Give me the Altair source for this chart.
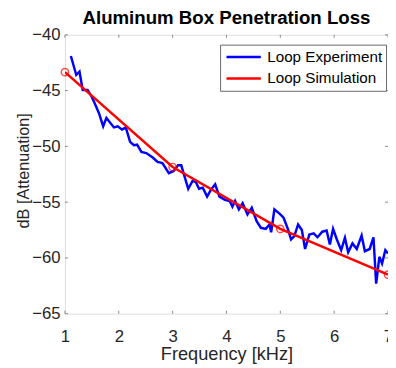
import altair as alt
import pandas as pd

# Measured experiment (blue) – frequency in kHz, attenuation in dB
exp_freq = [1.11, 1.21, 1.27, 1.33, 1.42, 1.48, 1.54, 1.63, 1.71, 1.77, 1.91, 1.98,
            2.06, 2.13, 2.21, 2.28, 2.34, 2.42, 2.51, 2.63, 2.72, 2.81, 2.93, 3.02,
            3.10, 3.16, 3.29, 3.37, 3.43, 3.49, 3.56, 3.64, 3.71, 3.79, 3.87, 3.97,
            4.06, 4.11, 4.16, 4.23, 4.30, 4.39, 4.47, 4.56, 4.64, 4.73, 4.80, 4.83,
            4.89, 5.00, 5.06, 5.14, 5.20, 5.26, 5.33, 5.40, 5.46, 5.54, 5.62, 5.69,
            5.78, 5.86, 5.92, 5.98, 6.05, 6.13, 6.20, 6.26, 6.34, 6.42, 6.51, 6.57,
            6.66, 6.73, 6.78, 6.84, 6.89, 6.95, 7.00]
exp_db = [-41.9, -43.6, -43.3, -44.95, -44.95, -45.4, -46.0, -47.0, -48.2, -47.45, -48.3, -48.2,
          -48.5, -48.3, -49.6, -49.9, -49.85, -50.5, -50.6, -51.0, -51.4, -51.5, -52.4, -52.2,
          -51.7, -51.7, -53.8, -53.1, -53.2, -53.8, -53.7, -54.5, -53.9, -53.4, -54.5, -54.8,
          -54.9, -55.4, -54.9, -55.65, -55.1, -56.1, -55.5, -56.7, -57.3, -57.4, -57.0, -57.7,
          -55.65, -56.1, -56.4, -57.4, -58.35, -58.05, -57.0, -57.5, -59.2, -57.9, -57.8, -58.15,
          -57.65, -57.55, -58.8, -57.4, -58.35, -59.3, -58.2, -59.5, -58.7, -59.2, -58.0, -59.4,
          -59.2, -58.15, -62.3, -59.9, -60.5, -59.3, -59.6]

# Simulation (red, with circle markers)
sim_freq = [1, 3, 5, 7]
sim_db = [-43.35, -51.85, -57.4, -61.5]

series_names = ["Loop Experiment", "Loop Simulation"]
series_colors = ["#0000FF", "#FF0000"]

x_ticks = [1, 2, 3, 4, 5, 6, 7]
y_ticks = [-65, -60, -55, -50, -45, -40]

FONT = "Liberation Sans"
W, H = 329, 284

df = pd.DataFrame({
    "f": exp_freq + sim_freq,
    "db": exp_db + sim_db,
    "series": [series_names[0]] * len(exp_freq) + [series_names[1]] * len(sim_freq),
})
sim_df = pd.DataFrame({"f": sim_freq, "db": sim_db})
xt_df = pd.DataFrame({"t": x_ticks})
yt_df = pd.DataFrame({"t": y_ticks})

xscale = alt.Scale(domain=[1, 7], nice=False, zero=False)
yscale = alt.Scale(domain=[-65, -40], nice=False, zero=False)

x_axis = alt.Axis(values=x_ticks, format="d", title="Frequency [kHz]", grid=False,
                  domain=False, ticks=False, labelPadding=15, labelFontSize=17,
                  labelFont=FONT, labelColor="#262626", titleFont=FONT, titleFontSize=18.5,
                  titleFontWeight="normal", titleColor="#262626",
                  titleY=47, titleBaseline="alphabetic", labelFlush=False)
y_axis = alt.Axis(values=y_ticks, format="d", title="dB [Attenuation]", grid=False,
                  domain=False, ticks=False, labelPadding=5, labelFontSize=17,
                  labelFont=FONT, labelColor="#262626", titleFont=FONT, titleFontSize=16.5,
                  titleFontWeight="normal", titleColor="#262626",
                  titleX=-42, titleY=138, titleAngle=-90, titleAlign="center",
                  titleBaseline="middle", labelFlush=False)

lines = alt.Chart(df).mark_line(strokeWidth=2.5, clip=True).encode(
    x=alt.X("f:Q", scale=xscale, axis=x_axis),
    y=alt.Y("db:Q", scale=yscale, axis=y_axis),
    color=alt.Color("series:N",
                    scale=alt.Scale(domain=series_names, range=series_colors),
                    legend=alt.Legend(title=None, orient="none", legendX=158, legendY=10,
                                      symbolType="stroke", symbolSize=1225,
                                      symbolStrokeWidth=2.5, labelFontSize=15.5,
                                      labelFont=FONT, labelColor="#000000",
                                      strokeColor="#666666", fillColor="white",
                                      padding=3, rowPadding=3, clipHeight=19,
                                      symbolOffset=2, labelOffset=5)),
)

points = alt.Chart(sim_df).mark_point(shape="circle", filled=False, size=55,
                                      strokeWidth=1.5, color="#FF0000").encode(
    x=alt.X("f:Q", scale=xscale),
    y=alt.Y("db:Q", scale=yscale),
)

tick_color = "#888888"
bottom_ticks = alt.Chart(xt_df).mark_rule(color=tick_color, strokeWidth=1).encode(
    x=alt.X("t:Q", scale=xscale), y=alt.value(H), y2=alt.value(H - 3))
top_ticks = alt.Chart(xt_df).mark_rule(color=tick_color, strokeWidth=1).encode(
    x=alt.X("t:Q", scale=xscale), y=alt.value(0), y2=alt.value(3))
left_ticks = alt.Chart(yt_df).mark_rule(color=tick_color, strokeWidth=1).encode(
    y=alt.Y("t:Q", scale=yscale), x=alt.value(0), x2=alt.value(3))
right_ticks = alt.Chart(yt_df).mark_rule(color=tick_color, strokeWidth=1).encode(
    y=alt.Y("t:Q", scale=yscale), x=alt.value(W), x2=alt.value(W - 3))

chart = alt.layer(bottom_ticks, top_ticks, left_ticks, right_ticks, lines, points).properties(
    width=W, height=H,
    title=alt.TitleParams("Aluminum Box Penetration Loss", font=FONT, fontSize=19,
                          fontWeight="bold", color="#000000", offset=0, dy=2,
                          anchor="middle"),
    autosize=alt.AutoSizeParams(type="none"),
    padding={"left": 58, "top": 24, "right": 0, "bottom": 52},
).configure_view(stroke="#888888", strokeWidth=1).configure(background="white")

chart.save("out.html", embed_options={"renderer": "svg", "actions": False})
